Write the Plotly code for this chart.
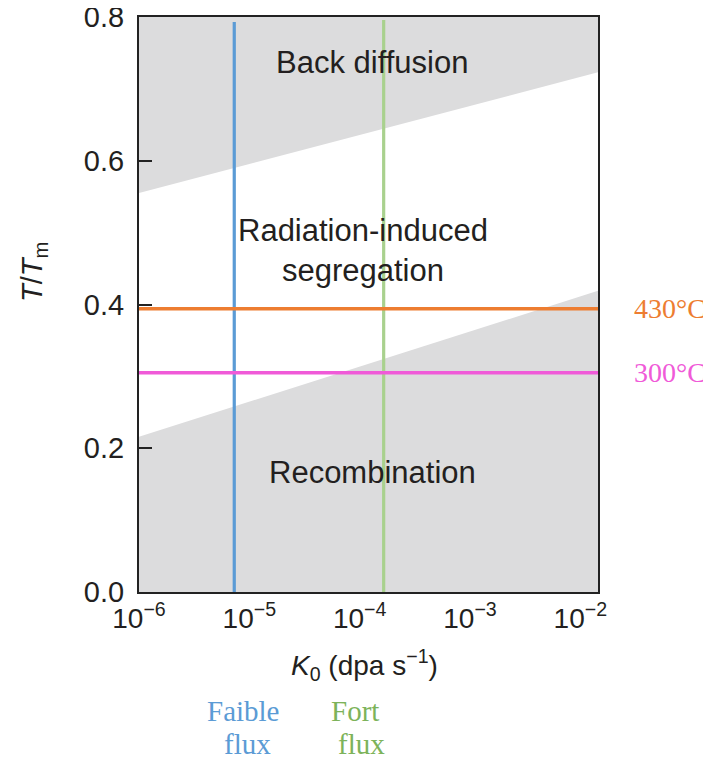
import plotly.graph_objects as go

# ---- data ----
x_log_range = [-6.0, -1.84]                    # visible decades of K0
k_edges = [10 ** x_log_range[0], 10 ** x_log_range[1]]
back_diffusion_edge = [0.555, 0.723]           # lower edge of back-diffusion region
recombination_edge = [0.216, 0.419]            # upper edge of recombination region
top_value = [0.8, 0.8]

flux_names = ["Faible flux", "Fort flux"]
flux_values = [7.3e-6, 1.65e-4]
flux_tops = [0.793, 0.796]
flux_colors = ["#5b9bd5", "#a9d18e"]

temp_labels = ["430°C", "300°C"]
temp_values = [0.394, 0.305]
temp_colors = ["#ed7d31", "#f05ad8"]

x_tick_vals = [1e-6, 1e-5, 1e-4, 1e-3, 1e-2]
x_tick_text = ["10<sup>−6</sup>", "10<sup>−5</sup>", "10<sup>−4</sup>", "10<sup>−3</sup>", "10<sup>−2</sup>"]
y_tick_vals = [0.0, 0.2, 0.4, 0.6, 0.8]

GRAY = "#dcdcdd"
TXT = "#231f20"
FONT = "Liberation Sans, Arial, sans-serif"
SERIF = "Liberation Serif, DejaVu Serif, serif"

# the page body adds an 8 px margin; compensate so the screenshot matches
OFF = 8
FIG_W, FIG_H = 711 - OFF, 760 - OFF
# plot-area pixel geometry in screenshot pixels
L, R, T, B = 139, 598, 17, 592
W, H = R - L, B - T


def px(xp):
    return (xp - L) / W


def py(yp):
    return (B - yp) / H


fig = go.Figure()

# back-diffusion region (top)
fig.add_trace(go.Scatter(x=k_edges, y=top_value, mode="lines", line=dict(width=0),
                         hoverinfo="skip", showlegend=False))
fig.add_trace(go.Scatter(x=k_edges, y=back_diffusion_edge, mode="lines", line=dict(width=0),
                         fill="tonexty", fillcolor=GRAY, hoverinfo="skip", showlegend=False))
# recombination region (bottom)
fig.add_trace(go.Scatter(x=k_edges, y=recombination_edge, mode="lines", line=dict(width=0),
                         fill="tozeroy", fillcolor=GRAY, hoverinfo="skip", showlegend=False))

# flux vertical lines
for name, xv, top, col in zip(flux_names, flux_values, flux_tops, flux_colors):
    fig.add_trace(go.Scatter(x=[xv, xv], y=[0, top], mode="lines",
                             line=dict(color=col, width=3.2), name=name, showlegend=False))

# temperature horizontal lines
for lab, yv, col in zip(temp_labels, temp_values, temp_colors):
    fig.add_trace(go.Scatter(x=k_edges, y=[yv, yv], mode="lines",
                             line=dict(color=col, width=3.4), name=lab, showlegend=False))

ann = []


def add(text, x, y, size, color, family, xref="paper", yref="paper", **kw):
    ann.append(dict(x=x, y=y, xref=xref, yref=yref, text=text, showarrow=False,
                    xanchor="center", yanchor="middle",
                    font=dict(size=size, color=color, family=family), **kw))


# region labels
add("Back diffusion", px(372), py(63), 31, TXT, FONT)
add("Radiation-induced<br>segregation", px(363), py(250), 31, TXT, FONT)
add("Recombination", px(372), py(472), 31, TXT, FONT)

# temperature labels on the right
for lab, yv, col in zip(temp_labels, temp_values, temp_colors):
    add(lab, px(670), yv, 28, col, SERIF, yref="y")

# flux labels below
add("Faible", px(243), py(711), 29, "#5b9bd5", SERIF)
add("flux", px(247), py(744), 29, "#5b9bd5", SERIF)
add("Fort", px(355), py(711), 29, "#7db35a", SERIF)
add("flux", px(361), py(744), 29, "#7db35a", SERIF)

# axis titles
add("<i>K</i><sub>0</sub> (dpa s<sup>−1</sup>)", px(364), py(665), 28, TXT, FONT)
add("<i>T</i>/<i>T</i><sub>m</sub>", px(34), py(272), 29, TXT, FONT, textangle=-90)

fig.update_layout(
    width=FIG_W, height=FIG_H,
    margin=dict(l=L - OFF, r=711 - R, t=T - OFF, b=760 - B, autoexpand=False),
    paper_bgcolor="white", plot_bgcolor="white",
    annotations=ann,
    font=dict(family=FONT, color=TXT),
)
fig.update_xaxes(type="log", range=x_log_range, tickvals=x_tick_vals, ticktext=x_tick_text,
                 ticks="", showgrid=False, zeroline=False, showline=True, mirror=True,
                 linecolor="#222222", linewidth=2.2, ticklabeloverflow="allow",
                 tickfont=dict(size=28, color=TXT, family=FONT))
fig.update_yaxes(range=[0, 0.8], tickvals=y_tick_vals, tickformat=".1f",
                 ticks="inside", ticklen=13, tickwidth=2.2, tickcolor="#222222",
                 ticklabelstandoff=7, ticklabeloverflow="allow",
                 showgrid=False, zeroline=False, showline=True, mirror=True,
                 linecolor="#222222", linewidth=2.2,
                 tickfont=dict(size=29, color=TXT, family=FONT))

fig.write_html("out.html")
